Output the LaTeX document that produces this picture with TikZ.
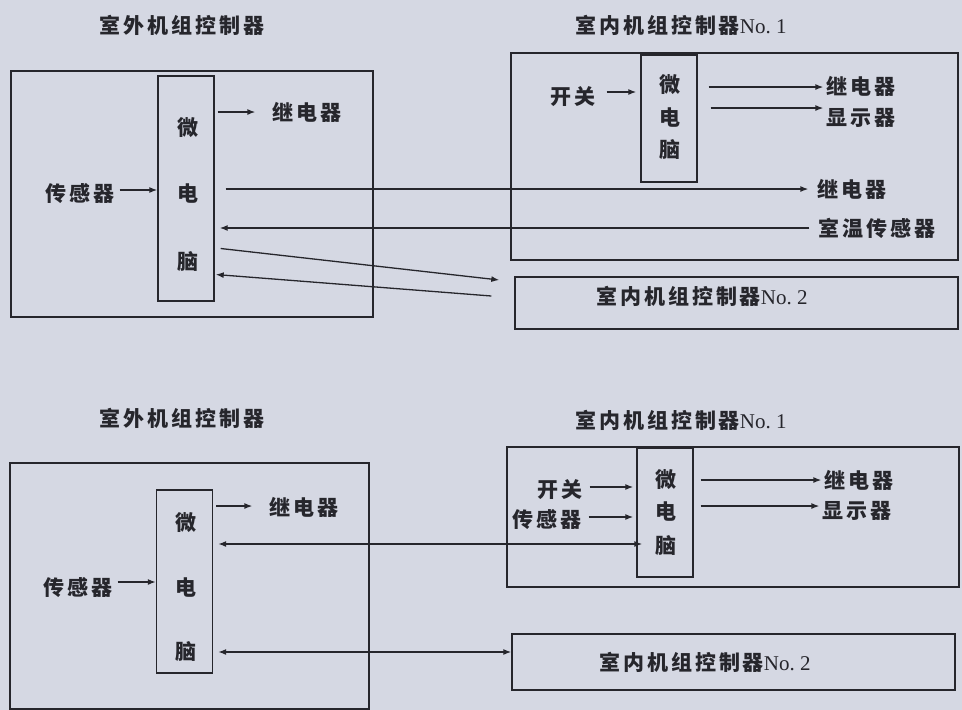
\documentclass[tikz,border=0pt]{standalone}
\usepackage{fontspec}
\setmainfont{Liberation Serif}
\newfontfamily\cjk[LetterSpace=14]{Noto Sans CJK SC}
\usetikzlibrary{arrows.meta,positioning}
\definecolor{paper}{RGB}{213,216,227}
\definecolor{ink}{RGB}{38,38,44}
\newcommand{\nolabel}[1]{{\rmfamily\mdseries\fontsize{21}{21}\selectfont No.\ #1}}
\tikzset{
  frame/.style={draw=ink, line width=1.4pt, inner sep=0pt},
  chip/.style={frame, minimum width=56},
  lbl/.style={font=\cjk\bfseries\fontsize{21}{21}\selectfont, text=ink, inner sep=1pt},
  arr/.style={-{Latex[length=8pt,width=6pt]}, draw=ink, line width=1.3pt},
  dbl/.style={{Latex[length=8pt,width=6pt]}-{Latex[length=8pt,width=6pt]}, draw=ink, line width=1.3pt}}

\begin{document}
\begin{tikzpicture}[x=1pt, y=-1pt]
  \fill[paper] (0,0) rectangle (962,710);
  \useasboundingbox (0,0) rectangle (962,710);

  % upper scheme
  \node[lbl] (tOutA) at (182,25) {室外机组控制器};
  \node[lbl] (tInA) at (681,25) {室内机组控制器\nolabel{1}};
  \node[frame, minimum width=362, minimum height=246] (outA) at (192,194) {};
  \node[chip, minimum height=225] (mcA) at (186,188.5) {};
  \foreach \c/\y [count=\i] in {微/128,电/194,脑/262} \node[lbl] (mA\i) at (188,\y) {\c};
  \node[lbl] (relA) at (307,112) {继电器};
  \node[lbl] (senA) at (80,193) {传感器};
  \node[frame, minimum width=447, minimum height=207] (inA) at (734.5,156.5) {};
  \node[chip, minimum height=127] (mcB) at (669,118.5) {};
  \foreach \c/\y [count=\i] in {微/85,电/118,脑/150} \node[lbl] (mB\i) at (670,\y) {\c};
  \node[lbl] (swA) at (573,97) {开关};
  \node[lbl] (relB) at (861,86) {继电器};
  \node[lbl] (disB) at (861,118) {显示器};
  \node[lbl] (relC) at (852,189) {继电器};
  \node[lbl] (roomA) at (877,228) {室温传感器};
  \node[frame, minimum width=443, minimum height=52] (noA) at (736.5,303) {};
  \node[lbl] (noAt) at (702,296) {室内机组控制器\nolabel{2}};

  \draw[arr] ([xshift=3pt]mcA.east |- relA) -- ([xshift=-16pt]relA.west);
  \draw[arr] ([xshift=4pt]senA.east |- 0,190) -- (mcA.west |- 0,190);
  \draw[arr] ([xshift=10pt]swA.east |- 0,92) -- ([xshift=-4pt]mcB.west |- 0,92);
  \draw[arr] ([xshift=11pt]mcB.east |- 0,87) -- ([xshift=-2pt]relB.west |- 0,87);
  \draw[arr] ([xshift=13pt]mcB.east |- 0,108) -- ([xshift=-2pt]disB.west |- 0,108);
  \draw[arr] ([xshift=11pt]mcA.east |- relC) -- ([xshift=-8pt]relC.west);
  \draw[arr] ([xshift=-8pt]roomA.west) -- ([xshift=5pt]mcA.east |- roomA);
  \draw[arr] ([shift={(6,60)}]mcA.east) -- ([shift={(-15,-23)}]noA.west);
  \draw[arr] ([shift={(-23,-7)}]noA.west) -- ([shift={(1,86)}]mcA.east);

  % lower scheme
  \node[lbl] (tOutB) at (182,418) {室外机组控制器};
  \node[lbl] (tInB) at (681,420) {室内机组控制器\nolabel{1}};
  \node[frame, minimum width=359, minimum height=246] (outB) at (189.5,586) {};
  \node[chip, minimum height=183] (mcC) at (184.5,581.5) {};
  \foreach \c/\y [count=\i] in {微/523,电/588,脑/652} \node[lbl] (mC\i) at (186,\y) {\c};
  \node[lbl] (relD) at (304,507) {继电器};
  \node[lbl] (senB) at (78,587) {传感器};
  \node[frame, minimum width=452, minimum height=140] (inB) at (733,517) {};
  \node[chip, minimum height=129] (mcD) at (665,512.5) {};
  \foreach \c/\y [count=\i] in {微/480,电/512,脑/546} \node[lbl] (mD\i) at (666,\y) {\c};
  \node[lbl] (swB) at (560,490) {开关};
  \node[lbl] (senC) at (547,519) {传感器};
  \node[lbl] (relE) at (859,480) {继电器};
  \node[lbl] (disC) at (857,511) {显示器};
  \node[frame, minimum width=443, minimum height=56] (noB) at (733.5,662) {};
  \node[lbl] (noBt) at (705,662) {室内机组控制器\nolabel{2}};

  \draw[arr] ([xshift=3pt]mcC.east |- 0,506) -- ([xshift=-16pt]relD.west |- 0,506);
  \draw[arr] ([xshift=4pt]senB.east |- 0,582) -- (mcC.west |- 0,582);
  \draw[arr] ([xshift=6pt]swB.east |- 0,487) -- ([xshift=-3pt]mcD.west |- 0,487);
  \draw[arr] ([xshift=6pt]senC.east |- 0,517) -- ([xshift=-3pt]mcD.west |- 0,517);
  \draw[arr] ([xshift=7pt]mcD.east |- 0,480) -- ([xshift=-2pt]relE.west |- 0,480);
  \draw[arr] ([xshift=7pt]mcD.east |- 0,506) -- ([xshift=-2pt]disC.west |- 0,506);
  \draw[dbl] ([xshift=5pt]mcC.east |- 0,544) -- ([xshift=6pt]mcD.west |- 0,544);
  \draw[dbl] ([xshift=5pt]mcC.east |- 0,652) -- (noB.west |- 0,652);
\end{tikzpicture}
\end{document}
